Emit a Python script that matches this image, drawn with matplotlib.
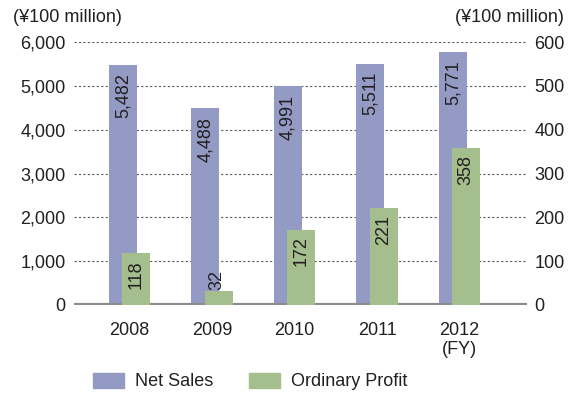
import matplotlib.pyplot as plt
from matplotlib.patches import Patch

plt.rcParams['font.family'] = ['Liberation Sans', 'DejaVu Sans']

years = ['2008', '2009', '2010', '2011', '2012\n(FY)']
net_sales = [5482, 4488, 4991, 5511, 5771]
ordinary_profit = [118, 32, 172, 221, 358]

blue = '#939bc4'
green = '#a4be8d'
text_color = '#231f20'
fs = 13

fig = plt.figure(figsize=(5.75, 3.94), dpi=100)
ax = fig.add_axes([0.129, 0.226, 0.788, 0.667])
ax2 = ax.twinx()

x = list(range(len(years)))
w = 0.34
off = 0.08

ax.bar([i - off for i in x], net_sales, width=w, color=blue, zorder=2)
ax2.bar([i + off for i in x], ordinary_profit, width=w, color=green, zorder=2)

ax.set_ylim(0, 6000)
ax2.set_ylim(0, 600)
ax.set_xlim(-0.67, 4.82)

# dotted grid lines, drawn on the left axis
for v in range(1000, 7000, 1000):
    ax.axhline(v, color='#5a5a5a', lw=0.8, ls=(0, (2, 2)), zorder=1)
ax.axhline(0, color='#8c8c8c', lw=3, zorder=4, solid_capstyle='butt')

# value labels, rotated inside the top of each bar
for i, v in enumerate(net_sales):
    ax.annotate(f'{v:,}', (i - off, v), xytext=(0, -6), textcoords='offset points',
                rotation=90, ha='center', va='top', fontsize=fs, color=text_color, zorder=5)
for i, v in enumerate(ordinary_profit):
    if v < 60:
        ax2.annotate(f'{v:,}', (i + off, v), xytext=(-1, 1), textcoords='offset points',
                     rotation=90, ha='center', va='bottom', fontsize=fs, color=text_color, zorder=5)
    else:
        ax2.annotate(f'{v:,}', (i + off, v), xytext=(0, -5), textcoords='offset points',
                     rotation=90, ha='center', va='top', fontsize=fs, color=text_color, zorder=5)

for a in (ax, ax2):
    for s in a.spines.values():
        s.set_visible(False)
    a.tick_params(length=0, labelsize=fs, colors=text_color)

ax.set_yticks(range(0, 7000, 1000))
ax.set_yticklabels([f'{v:,}' for v in range(0, 7000, 1000)])
ax.tick_params(axis='y', pad=6)
ax2.set_yticks(range(0, 700, 100))
ax2.tick_params(axis='y', pad=5)
ax.set_xticks(x)
ax.set_xticklabels(years, linespacing=1.15)
ax.tick_params(axis='x', pad=12)

fig.text(0.022, 0.955, '(¥100 million)', fontsize=fs, color=text_color, va='center')
fig.text(0.98, 0.955, '(¥100 million)', fontsize=fs, color=text_color, va='center', ha='right')

handles = [Patch(color=blue, label='Net Sales'), Patch(color=green, label='Ordinary Profit')]
fig.legend(handles=handles, loc='center', bbox_to_anchor=(0.435, 0.032), ncol=2, frameon=False,
           fontsize=fs, handlelength=1.7, handleheight=0.9, columnspacing=2.0, handletextpad=0.6,
           labelcolor=text_color)

fig.savefig('out.png', dpi=100)
